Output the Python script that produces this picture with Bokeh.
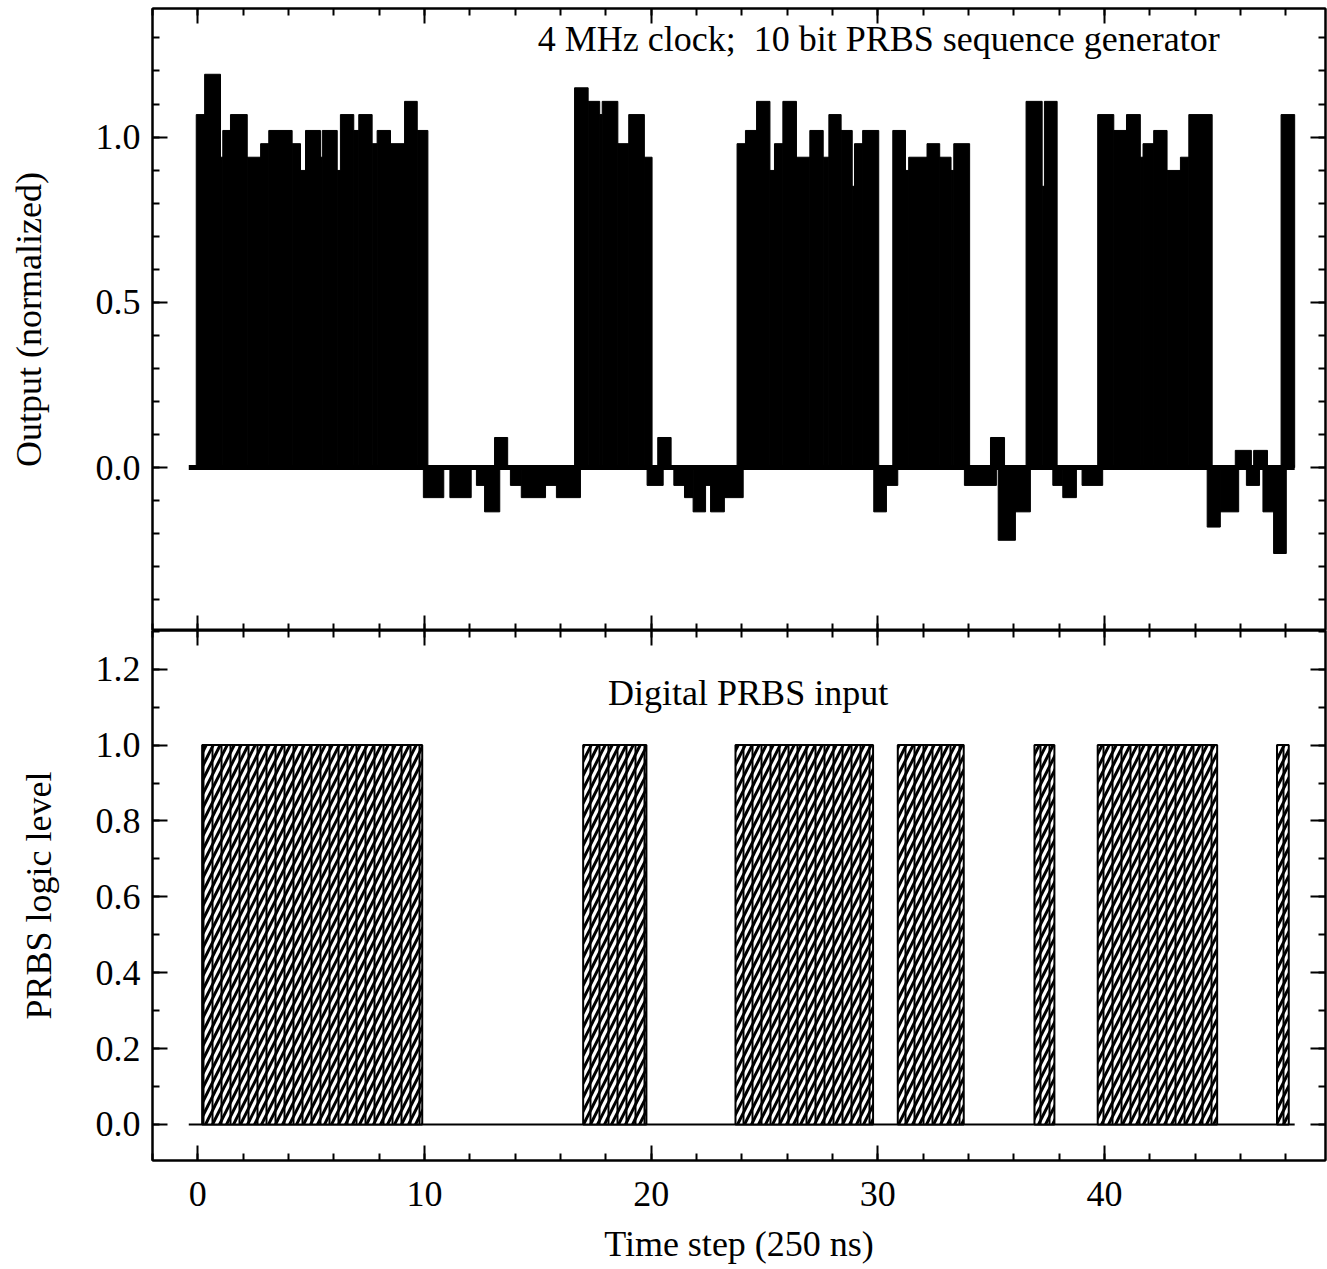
from bokeh.plotting import figure
from bokeh.layouts import column
from bokeh.models import Range1d, SingleIntervalTicker, LinearAxis, PrintfTickFormatter, Label
from bokeh.embed import file_html
from bokeh.resources import INLINE

# ---------------- data ----------------
# Output (normalized) read as piecewise-constant segments: [left, right) in time steps
out_left = [
    -0.07, 0.30, 1.00, 1.10, 1.44, 2.18, 2.77, 3.13, 4.16, 4.53, 4.75, 5.41, 5.49, 6.15, 6.29,
    6.88, 7.10, 7.69, 7.91, 8.50, 9.12, 9.68,
    9.95, 11.12, 12.29, 12.65, 13.09, 13.79, 14.27, 15.34, 15.82,
    16.62, 17.22, 17.73, 17.84, 18.53, 19.01, 19.70,
    19.82, 20.29, 21.00, 21.47, 21.85, 22.40, 22.62, 23.23,
    23.79, 24.16, 24.65, 25.24, 25.44, 25.81, 26.41, 27.00, 27.59, 27.84, 28.38, 28.87, 28.97, 29.33,
    29.82, 30.38,
    30.66, 31.22, 31.36, 32.17, 32.73, 33.23, 33.35,
    33.82, 34.97, 35.31, 36.07,
    36.54, 37.25, 37.35,
    37.72, 38.16, 39.01,
    39.70, 40.41, 40.97, 41.58, 41.70, 42.17, 42.76, 43.35, 43.72,
    44.53, 45.11, 45.77, 46.26, 46.58, 46.99, 47.46,
    47.79,
]
out_right = [
    0.30, 1.00, 1.10, 1.44, 2.18, 2.77, 3.13, 4.16, 4.53, 4.75, 5.41, 5.49, 6.15, 6.29, 6.88,
    7.10, 7.69, 7.91, 8.50, 9.12, 9.68, 10.15,
    10.85, 12.06, 12.65, 13.32, 13.67, 14.27, 15.34, 15.82, 16.88,
    17.22, 17.73, 17.84, 18.53, 19.01, 19.70, 20.04,
    20.53, 20.88, 21.47, 21.85, 22.40, 22.62, 23.23, 24.06,
    24.16, 24.65, 25.24, 25.44, 25.81, 26.41, 27.00, 27.59, 27.84, 28.38, 28.87, 28.97, 29.33, 30.04,
    30.38, 30.88,
    31.22, 31.36, 32.17, 32.73, 33.23, 33.35, 34.05,
    35.23, 35.59, 36.07, 36.73,
    37.25, 37.35, 37.91,
    38.16, 38.76, 39.92,
    40.41, 40.97, 41.58, 41.70, 42.17, 42.76, 43.35, 43.72, 44.75,
    45.11, 45.92, 46.48, 46.84, 47.19, 47.46, 48.02,
    48.39,
]
out_value = [
    1.068, 1.19, 0.939, 1.02, 1.068, 0.939, 0.98, 1.02, 0.98, 0.899, 1.02, 0.939, 1.02, 0.899, 1.068,
    1.02, 1.068, 0.98, 1.02, 0.98, 1.108, 1.02,
    -0.091, -0.091, -0.054, -0.134, 0.091, -0.054, -0.091, -0.054, -0.091,
    1.149, 1.108, 1.068, 1.108, 0.98, 1.068, 0.939,
    -0.054, 0.091, -0.054, -0.091, -0.134, -0.054, -0.134, -0.091,
    0.98, 1.02, 1.108, 0.899, 0.98, 1.108, 0.939, 1.02, 0.939, 1.068, 1.02, 0.851, 0.98, 1.02,
    -0.134, -0.054,
    1.02, 0.899, 0.939, 0.98, 0.939, 0.899, 0.98,
    -0.054, 0.091, -0.22, -0.134,
    1.108, 0.851, 1.108,
    -0.054, -0.091, -0.054,
    1.068, 1.02, 1.068, 0.939, 0.98, 1.02, 0.899, 0.939, 1.068,
    -0.18, -0.134, 0.052, -0.054, 0.052, -0.134, -0.26,
    1.068,
]
# Digital PRBS input: intervals at logic level 1
prbs_start = [0.19, 17.00, 23.72, 30.88, 36.91, 39.70, 47.61]
prbs_end = [9.90, 19.79, 29.79, 33.79, 37.79, 44.97, 48.13]
prbs_level = [1, 1, 1, 1, 1, 1, 1]
# time span of the sampled sequence (zero level drawn across it)
span_t = [-0.40, 48.39]
zero_level = [0.0, 0.0]

title_top = "4 MHz clock; \u00a010 bit PRBS sequence generator"
title_bot = "Digital PRBS input"
ylabel_top = "Output (normalized)"
ylabel_bot = "PRBS logic level"
xlabel = "Time step (250 ns)"

FONT = "Liberation Serif"
FS = "36px"

xr = Range1d(-2.0, 49.75)


def style_axis(ax, labels=True):
    ax.major_tick_in = 15
    ax.major_tick_out = 0
    ax.minor_tick_in = 7
    ax.minor_tick_out = 0
    ax.major_tick_line_width = 2
    ax.minor_tick_line_width = 2
    ax.major_tick_line_color = "black"
    ax.minor_tick_line_color = "black"
    ax.axis_line_width = 2
    ax.axis_line_color = "black"
    ax.major_label_text_font = FONT
    ax.major_label_text_font_size = FS
    ax.major_label_text_color = "black"
    ax.axis_label_text_font = FONT
    ax.axis_label_text_font_size = FS
    ax.axis_label_text_font_style = "normal"
    ax.axis_label_text_color = "black"
    if not labels:
        ax.major_label_text_color = None
        ax.major_label_standoff = 0
        ax.axis_label = None


def make_fig(height, yr, mb_top, mb_bottom):
    p = figure(width=1327, height=height, x_range=xr, y_range=yr,
               output_backend="svg", toolbar_location=None,
               min_border_left=152, min_border_right=2,
               min_border_top=mb_top, min_border_bottom=mb_bottom)
    p.xgrid.grid_line_color = None
    p.ygrid.grid_line_color = None
    p.outline_line_color = "black"
    p.outline_line_width = 2
    p.background_fill_color = "white"
    p.border_fill_color = "white"
    return p


# ---------------- top panel ----------------
top = make_fig(630, Range1d(-0.493, 1.389), 8, 0)
xt = SingleIntervalTicker(interval=10, num_minor_ticks=5)
yt_top = SingleIntervalTicker(interval=0.5, num_minor_ticks=5)
top.xaxis.ticker = xt
top.yaxis.ticker = yt_top
top.yaxis.formatter = PrintfTickFormatter(format="%.1f")
style_axis(top.xaxis[0], labels=False)
style_axis(top.yaxis[0])
top.yaxis.axis_label = ylabel_top
top.yaxis.major_label_standoff = 12
top.yaxis.axis_label_standoff = 44
ax_above = LinearAxis(ticker=xt)
style_axis(ax_above, labels=False)
top.add_layout(ax_above, "above")
ax_right = LinearAxis(ticker=yt_top)
style_axis(ax_right, labels=False)
top.add_layout(ax_right, "right")

top.line(x=span_t, y=zero_level, line_color="black", line_width=5)
top.quad(left=out_left, right=out_right, bottom=0, top=out_value,
         fill_color="black", line_color="black", line_width=1)
top.add_layout(Label(x=15.0, y=1.298, text=title_top, text_font=FONT, text_font_size=FS,
                     text_color="black", text_baseline="alphabetic", text_align="left"))

# ---------------- bottom panel ----------------
bot = make_fig(639, Range1d(-0.095, 1.302), 0, 109)
yt_bot = SingleIntervalTicker(interval=0.2, num_minor_ticks=2)
bot.xaxis.ticker = xt
bot.yaxis.ticker = yt_bot
bot.yaxis.formatter = PrintfTickFormatter(format="%.1f")
style_axis(bot.xaxis[0])
style_axis(bot.yaxis[0])
bot.xaxis.axis_label = xlabel
bot.xaxis.major_label_standoff = 21
bot.xaxis.axis_label_standoff = 15
bot.yaxis.axis_label = ylabel_bot
bot.yaxis.major_label_standoff = 12
bot.yaxis.axis_label_standoff = 34
ax_above2 = LinearAxis(ticker=xt)
style_axis(ax_above2, labels=False)
bot.add_layout(ax_above2, "above")
ax_right2 = LinearAxis(ticker=yt_bot)
style_axis(ax_right2, labels=False)
bot.add_layout(ax_right2, "right")

bot.line(x=span_t, y=zero_level, line_color="black", line_width=2)
bot.quad(left=prbs_start, right=prbs_end, bottom=0, top=prbs_level,
         fill_color="white", line_color="black", line_width=2,
         hatch_pattern="/", hatch_color="black", hatch_weight=3, hatch_scale=14)
bot.quad(left=prbs_start, right=prbs_end, bottom=0, top=prbs_level,
         fill_alpha=0, line_color=None,
         hatch_pattern="|", hatch_color="black", hatch_weight=2, hatch_scale=9)
bot.add_layout(Label(x=18.1, y=1.137, text=title_bot, text_font=FONT, text_font_size=FS,
                     text_color="black", text_baseline="alphabetic", text_align="left"))

layout = column(top, bot, spacing=0)
open("out.html", "w").write(file_html(layout, INLINE))
